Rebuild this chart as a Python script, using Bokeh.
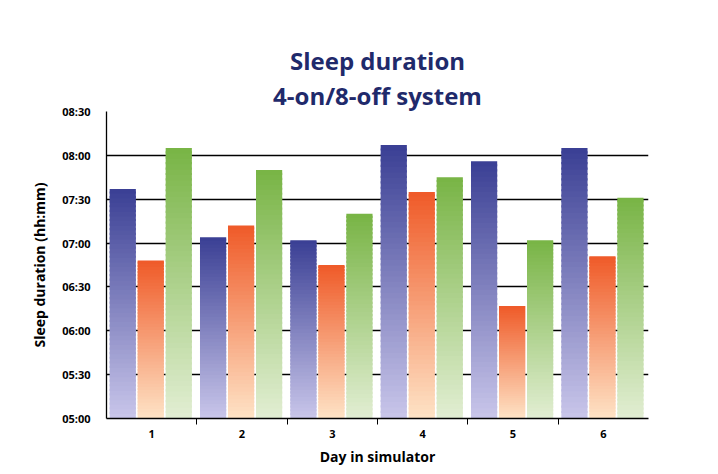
from bokeh.plotting import figure
from bokeh.models import FixedTicker, Title, Range1d
from bokeh.embed import file_html
from bokeh.resources import INLINE

days = [1, 2, 3, 4, 5, 6]
# sleep duration in minutes
series_a = [457, 424, 422, 487, 476, 485]   # blue
series_b = [408, 432, 405, 455, 377, 411]   # orange
series_c = [485, 470, 440, 465, 422, 451]   # green
tick_labels = ["05:00", "05:30", "06:00", "06:30", "07:00", "07:30", "08:00", "08:30"]

p = figure(frame_width=542, frame_height=307, output_backend="svg", toolbar_location=None,
           x_range=Range1d(0.5, 6.5), y_range=Range1d(300, 510),
           min_border_left=106, min_border_right=54, min_border_top=45, min_border_bottom=8)
p.outline_line_color = None
p.background_fill_color = "white"

def blend(c1, c2, t):
    return "#%02x%02x%02x" % tuple(int(round(a + (b - a) * t)) for a, b in zip(c1, c2))

styles = [(series_a, -0.32, (0x3a, 0x3f, 0x94), (0xc9, 0xc6, 0xea)),
          (series_b, -0.01, (0xef, 0x5a, 0x28), (0xfe, 0xe3, 0xc6)),
          (series_c, 0.30, (0x78, 0xb4, 0x45), (0xe2, 0xee, 0xd3))]
n = 50
for vals, off, top_c, bot_c in styles:
    xs, bots, tops, cols = [], [], [], []
    for d, v in zip(days, vals):
        step = (v - 300) / n
        for k in range(n):
            xs.append(d + off)
            bots.append(300 + k * step)
            tops.append(min(v, 300 + (k + 1) * step + 1.5))
            cols.append(blend(bot_c, top_c, (k + 0.5) / n))
    p.vbar(x=xs, bottom=bots, top=tops, width=0.29, fill_color=cols, line_color=None)

p.yaxis.ticker = FixedTicker(ticks=list(range(300, 511, 30)))
p.yaxis.major_label_overrides = {300 + 30 * i: s for i, s in enumerate(tick_labels)}
p.ygrid.ticker = FixedTicker(ticks=list(range(330, 511, 30)))
p.ygrid.grid_line_color = "black"
p.ygrid.grid_line_width = 1.3
p.xgrid.grid_line_color = None
p.yaxis.major_tick_line_color = None
p.yaxis.minor_tick_line_color = None
p.yaxis.axis_line_color = "black"
p.yaxis.axis_line_width = 1.3
p.yaxis.major_label_standoff = 10

p.xaxis.ticker = FixedTicker(ticks=days, minor_ticks=[1.5, 2.5, 3.5, 4.5, 5.5])
p.xaxis.major_tick_line_color = None
p.xaxis.minor_tick_out = 6
p.xaxis.minor_tick_in = 0
p.xaxis.minor_tick_line_color = "black"
p.xaxis.axis_line_width = 1.3

for ax in (p.xaxis, p.yaxis):
    ax.major_label_text_font = "Open Sans"
    ax.major_label_text_font_style = "bold"
    ax.major_label_text_font_size = "11px"
    ax.major_label_text_color = "black"
    ax.axis_label_text_font = "Open Sans"
    ax.axis_label_text_font_style = "bold"
    ax.axis_label_text_font_size = "14px"
    ax.axis_label_text_color = "black"
p.xaxis.axis_label = "Day in simulator"
p.xaxis.axis_label_standoff = 6
p.yaxis.axis_label = "Sleep duration (hh:mm)"
p.yaxis.axis_label_standoff = 10

for txt, fs in [("4-on/8-off system", "24px"), ("Sleep duration", "24px"), (" ", "29px")]:
    p.add_layout(Title(text=txt, align="center", text_font="Open Sans", text_font_size=fs,
                       text_font_style="bold", text_color="#1f2a6b", standoff=0), "above")

open("out.html", "w").write(file_html(p, INLINE))
